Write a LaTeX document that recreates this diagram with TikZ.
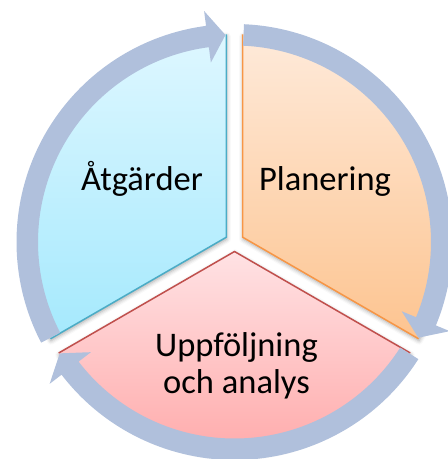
\documentclass[tikz,border=0pt]{standalone}
\usepackage{fontspec}
\setmainfont{Carlito}
\usetikzlibrary{shadows.blur}
\definecolor{ringc}{RGB}{176,192,220}
\definecolor{bluetop}{RGB}{222,247,255}
\definecolor{bluebot}{RGB}{165,233,253}
\definecolor{blueedge}{RGB}{75,172,198}
\definecolor{orgtop}{RGB}{254,234,218}
\definecolor{orgbot}{RGB}{253,196,144}
\definecolor{orgedge}{RGB}{247,150,70}
\definecolor{pinktop}{RGB}{255,226,228}
\definecolor{pinkbot}{RGB}{255,163,163}
\definecolor{pinkedge}{RGB}{192,80,77}
\newcommand\cyclearrow[1]{%
  \fill[ringarrow] (#1:\Ro) arc[start angle=#1, end angle={#1-110}, radius=\Ro]
    -- ({#1-110}:\Ho) -- ({#1-115}:\Rm) -- ({#1-110}:\Hi) -- ({#1-110}:\Ri)
    arc[start angle={#1-110}, end angle=#1, radius=\Ri] -- cycle;}
\begin{document}
\begin{tikzpicture}[x=1pt,y=1pt,
  ringarrow/.style={fill=ringc, draw=none},
  sectshadow/.style={blur shadow={shadow xshift=0.5pt, shadow yshift=-2pt, shadow blur radius=4pt, shadow opacity=35}},
  edgeline/.style={line width=1.5pt, line join=miter},
  lbl/.style={font=\fontsize{34.5}{37}\selectfont, inner sep=0pt, text=black}]
\def\R{203}
\def\Ri{196.5}
\def\Ro{218}
\def\Rm{207.25}
\def\Hi{181}
\def\Ho{233}
\useasboundingbox (-234.5,-217) rectangle (213.5,242);
\clip (-234.5,-217) rectangle (213.5,242);
% sectors
\path[sectshadow, top color=bluetop, bottom color=bluebot]
  (150:9.5) -- ++(90:\R) arc[start angle=90, end angle=210, radius=\R] -- cycle;
\draw[edgeline, blueedge] (150:9.5) ++(90:\R) -- (150:9.5) -- ++(210:\R);
\path[sectshadow, top color=orgtop, bottom color=orgbot]
  (30:9.5) -- ++(90:\R) arc[start angle=90, end angle=-30, radius=\R] -- cycle;
\draw[edgeline, orgedge] (30:9.5) ++(90:\R) -- (30:9.5) -- ++(-30:\R);
\path[sectshadow, top color=pinktop, bottom color=pinkbot]
  (270:9.5) -- ++(210:\R) arc[start angle=210, end angle=330, radius=\R] -- cycle;
\draw[edgeline, pinkedge] (270:9.5) ++(210:\R) -- (270:9.5) -- ++(330:\R);
% ring arrows
\cyclearrow{207.5}
\cyclearrow{87.5}
\cyclearrow{-32.5}
% labels
\node[lbl, anchor=base] (atg) at (-92.5,52) {Åtgärder};
\node[lbl, anchor=base] (plan) at (90.5,52) {Planering};
\node[lbl, align=center] (upp) at (2,-124) {Uppföljning\\och analys};
\end{tikzpicture}
\end{document}
